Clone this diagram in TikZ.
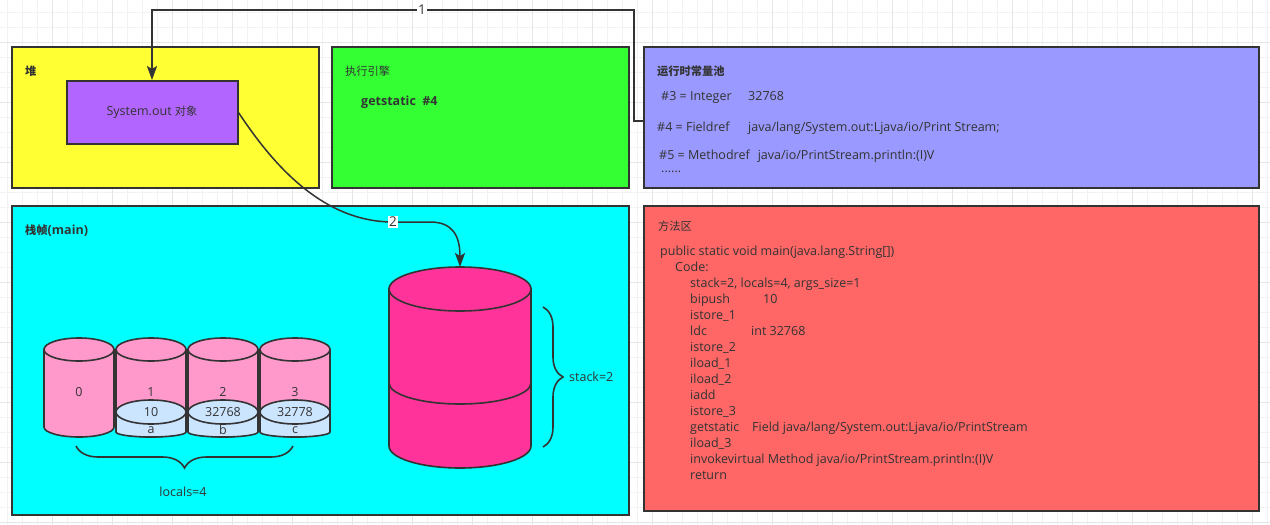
\documentclass[tikz,border=0pt]{standalone}
\usepackage{fontspec}
\setmainfont{Open Sans}
\newfontfamily\cjk[Scale=0.9]{Noto Sans CJK SC}
\usetikzlibrary{arrows.meta}
\usetikzlibrary{decorations.pathreplacing}
\usetikzlibrary{positioning}

\definecolor{heapyellow}{HTML}{FFFF33}
\definecolor{objpurple}{HTML}{B266FF}
\definecolor{enginegreen}{HTML}{33FF33}
\definecolor{poolblue}{HTML}{9999FF}
\definecolor{framecyan}{HTML}{00FFFF}
\definecolor{methodred}{HTML}{FF6666}
\definecolor{stackpink}{HTML}{FF3399}
\definecolor{slotpink}{HTML}{FF99CC}
\definecolor{slotblue}{HTML}{CCE5FF}
\definecolor{linegray}{HTML}{333333}
\definecolor{gridminor}{HTML}{F2F2F2}
\definecolor{gridmajor}{HTML}{E6E6E6}

\tikzset{
  area/.style={draw=linegray, line width=2pt, anchor=north west, inner sep=0pt},
  title/.style={anchor=west, inner sep=0pt, text=linegray, font=\fontsize{12.5}{14}\selectfont\bfseries},
  plain/.style={anchor=west, inner sep=0pt, text=linegray, font=\fontsize{12.5}{14}\selectfont},
  codeline/.style={anchor=base west, inner sep=0pt, text=linegray, font=\fontsize{12.5}{16}\selectfont},
  slottext/.style={inner sep=0pt, text=linegray, font=\fontsize{12.5}{14}\selectfont},
  cylline/.style={draw=linegray, line width=1.6pt},
  conn/.style={draw=linegray, line width=2pt, -{Stealth[length=14pt,width=10pt,inset=3pt]}},
  lbl/.style={fill=white, inner sep=1pt, text=linegray, font=\fontsize{13.5}{14}\selectfont},
  bracket/.style={draw=linegray, line width=1.6pt, decorate,
    decoration={brace, amplitude=#1, aspect=0.5}},
}

\begin{document}
\begin{tikzpicture}[x=1pt, y=-1pt]
  \useasboundingbox (0,0) rectangle (1270,525);

  % Raster
  \foreach \gx in {7,22,...,1270} \draw[gridminor, line width=1pt] (\gx,0) -- (\gx,525);
  \foreach \gy in {12,27,...,525} \draw[gridminor, line width=1pt] (0,\gy) -- (1270,\gy);
  \foreach \gx in {52,112,...,1270} \draw[gridmajor, line width=1pt] (\gx,0) -- (\gx,525);
  \foreach \gy in {42,102,...,525} \draw[gridmajor, line width=1pt] (0,\gy) -- (1270,\gy);

  % Bereiche
  \node[area, fill=heapyellow, minimum width=307pt, minimum height=141pt] (heap) at (11,46) {};
  \node[area, fill=enginegreen, minimum width=297pt, minimum height=141pt] (engine) at (331,46) {};
  \node[area, fill=poolblue, minimum width=615pt, minimum height=141pt] (pool) at (643,46) {};
  \node[area, fill=framecyan, minimum width=617pt, minimum height=309pt] (frame) at (11,205) {};
  \node[area, fill=methodred, minimum width=615pt, minimum height=305pt] (method) at (643,205) {};

  % Heap
  \node[title] (heaptitle) at (25,71) {\cjk 堆};
  \node[draw=linegray, line width=2pt, fill=objpurple, minimum width=171pt, minimum height=63pt,
        inner sep=0pt, text=linegray, font=\fontsize{12.5}{14}\selectfont] (sysobj) at (152,112.5) {System.out {\cjk 对象}};

  % Engine
  \node[plain] (enginetitle) at (345,71) {\cjk 执行引擎};
  \node[title] (getstatic) at (361,102) {getstatic~~\#4};

  % Konstantenpool
  \node[title] (pooltitle) at (657,71) {\cjk 运行时常量池};
  \node[plain] (pool3) at (661,97) {\makebox[87pt][l]{\#3 = Integer}32768};
  \node[plain] (pool4) at (657,128) {\makebox[91pt][l]{\#4 = Fieldref}java/lang/System.out:Ljava/io/Print Stream;};
  \node[plain] (pool5) at (659,156) {\#5 = Methodref\hspace{8pt}java/io/PrintStream.println:(I)V};
  \node[plain] (pooldots) at (661,172) {......};

  % Methodenbereich
  \node[plain] (methodtitle) at (658,226) {\cjk 方法区};
  \node[codeline] (code1) at (660,255) {public static void main(java.lang.String[])};
  \node[codeline] (code2) at (675,271) {Code:};
  \node[codeline] (code3) at (690,287) {stack=2, locals=4, args\_size=1};
  \node[codeline] (code4) at (690,303) {\makebox[73pt][l]{bipush}10};
  \node[codeline] (code5) at (690,319) {istore\_1};
  \node[codeline] (code6) at (690,335) {\makebox[61pt][l]{ldc}int 32768};
  \node[codeline] (code7) at (690,351) {istore\_2};
  \node[codeline] (code8) at (690,367) {iload\_1};
  \node[codeline] (code9) at (690,383) {iload\_2};
  \node[codeline] (code10) at (690,399) {iadd};
  \node[codeline] (code11) at (690,415) {istore\_3};
  \node[codeline] (code12) at (690,431) {\makebox[62pt][l]{getstatic}Field java/lang/System.out:Ljava/io/PrintStream};
  \node[codeline] (code13) at (690,447) {iload\_3};
  \node[codeline] (code14) at (690,463) {invokevirtual Method java/io/PrintStream.println:(I)V};
  \node[codeline] (code15) at (690,479) {return};

  % Stackframe
  \node[title] (frametitle) at (25,231) {{\cjk 栈帧}(main)};

  % lokale Variablen
  \foreach \lx/\num in {44/0, 116/1, 188/2, 260/3} {
    \filldraw[cylline, fill=slotpink] (\lx,349.5) -- (\lx,427)
      arc[start angle=180, end angle=360, x radius=35pt, y radius=10pt] -- (\lx+70,349.5) -- cycle;
    \filldraw[cylline, fill=slotpink] (\lx+35,349.5) ellipse[x radius=35pt, y radius=11.5pt];
    \node[slottext] (slot\num) at (\lx+35,392) {\num};
  }
  \foreach \lx/\val/\var in {116/10/a, 188/32768/b, 260/32778/c} {
    \filldraw[cylline, fill=slotblue] (\lx,412) -- (\lx,432)
      arc[start angle=180, end angle=360, x radius=35pt, y radius=5pt] -- (\lx+70,412) -- cycle;
    \filldraw[cylline, fill=slotblue] (\lx+35,412) ellipse[x radius=35pt, y radius=12pt];
    \node[slottext] (val\var) at (\lx+35,412) {\val};
    \node[slottext] (var\var) at (\lx+35,430) {\var};
  }
  \draw[bracket=22pt] (293,446) -- (76,446);
  \node[slottext] (locals) at (183,492) {locals=4};

  % Operandenstack
  \filldraw[cylline, fill=stackpink] (389,289) -- (389,446)
    arc[start angle=180, end angle=360, x radius=71pt, y radius=22pt] -- (531,289) -- cycle;
  \filldraw[cylline, fill=stackpink] (460,289) ellipse[x radius=71pt, y radius=22pt];
  \draw[cylline] (389,383) arc[start angle=180, end angle=360, x radius=71pt, y radius=21pt];
  \coordinate (stacktop) at (460,267);
  \draw[bracket=20pt] (543,307) -- (543,447);
  \node[plain] (stacklabel) at (569,377) {stack=2};

  % Verbindungen
  \draw[conn] ([yshift=-3.5pt]pool.west) -- ++(-9,0) |- (152,10) node[lbl, pos=0.72] (one) {1} -- (sysobj.north);
  \draw[conn, line width=1.5pt] (sysobj.east) .. controls (270,160) and (320,222) .. (393,222)
    node[lbl] (two) {2} -- (430,222) .. controls (452,222) and (460,235) .. (stacktop);
\end{tikzpicture}
\end{document}
